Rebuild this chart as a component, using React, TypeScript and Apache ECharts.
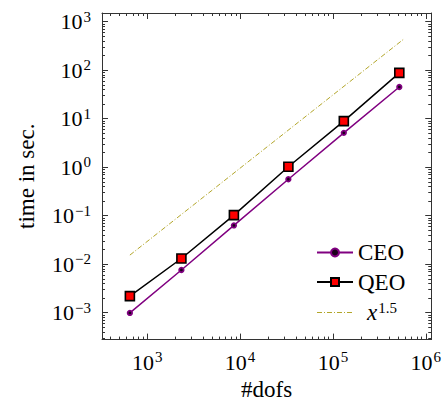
import React, { useEffect, useRef } from "react";
import * as echarts from "echarts";

// Data
const dofs = [649, 2330, 8570, 33100, 131000, 519000];
const ceoTimes = [0.00099, 0.0076, 0.063, 0.565, 5.1, 45];
const qeoTimes = [0.0022, 0.0131, 0.103, 1.02, 8.9, 88];
const refDofs = [649, 577000];
const refTimes = [0.0154, 435];

const xMajorTicks = [1e3, 1e4, 1e5, 1e6];
const yMajorTicks = [1e-3, 1e-2, 1e-1, 1e0, 1e1, 1e2, 1e3];
const minorFactors = [2, 3, 4, 5, 6, 7, 8, 9];
const xDecades = [1e2, 1e3, 1e4, 1e5, 1e6];
const yDecades = [1e-4, 1e-3, 1e-2, 1e-1, 1e0, 1e1, 1e2, 1e3];

const X_MIN = 325;
const X_MAX = 1.146e6;
const Y_MIN = 2.79e-4;
const Y_MAX = 1510;

const FONT = "Liberation Serif";

const minorOf = (decades: number[], lo: number, hi: number) => {
  const out: number[] = [];
  decades.forEach((d) =>
    minorFactors.forEach((f) => {
      const v = +(d * f).toPrecision(6);
      if (v > lo && v < hi) out.push(v);
    })
  );
  return out;
};

const powLabel = (v: number) => {
  const e = Math.round(Math.log10(v));
  const s = e < 0 ? "\u2212" + -e : String(e);
  return `{b|10}{s|${s}}`;
};

const rich = {
  b: { fontFamily: FONT, fontSize: 22, color: "#000" },
  s: { fontFamily: FONT, fontSize: 15, color: "#000", padding: [0, 0, 10, 1] },
};

// dash-dot legend sample (bounding box fixed to 36x10 by the first two moves)
const dashDotIcon =
  "path://M0,0 M36,10 " +
  [
    [0, 5],
    [7, 8],
    [10, 15],
    [17, 18],
    [20, 25],
    [27, 28],
    [30, 35],
  ]
    .map(([a, b]) => `M${a},4.5 L${b},4.5 L${b},5.5 L${a},5.5 Z`)
    .join(" ");

export default function App() {
  const ref = useRef<HTMLDivElement>(null);
  useEffect(() => {
    if (!ref.current) return;
    const chart = echarts.init(ref.current, undefined, { renderer: "svg" });
    const xMinor = minorOf(xDecades, X_MIN, X_MAX);
    const yMinor = minorOf(yDecades, Y_MIN, Y_MAX);
    const axisLineStyle = { color: "#333", width: 1 };

    const xBase = (extra: any) => ({
      type: "log",
      logBase: 10,
      min: X_MIN,
      max: X_MAX,
      splitLine: { show: false },
      minorTick: { show: false },
      ...extra,
    });
    const yBase = (extra: any) => ({
      type: "log",
      logBase: 10,
      min: Y_MIN,
      max: Y_MAX,
      splitLine: { show: false },
      minorTick: { show: false },
      ...extra,
    });

    chart.setOption({
      animation: false,
      backgroundColor: "#fff",
      grid: { left: 102, right: 11, top: 13, bottom: 62, containLabel: false },
      xAxis: [
        xBase({
          position: "bottom",
          axisLine: { show: true, lineStyle: axisLineStyle },
          axisTick: { show: true, inside: true, length: 6, customValues: xMajorTicks, lineStyle: axisLineStyle },
          axisLabel: { show: true, customValues: xMajorTicks, formatter: powLabel, rich, margin: 10 },
          name: "#dofs",
          nameLocation: "middle",
          nameGap: 38,
          nameTextStyle: { fontFamily: FONT, fontSize: 23, color: "#000" },
        }),
        xBase({
          position: "bottom",
          axisLine: { show: false },
          axisTick: { show: true, inside: true, length: 3, customValues: xMinor, lineStyle: axisLineStyle },
          axisLabel: { show: false },
        }),
        xBase({
          position: "top",
          axisLine: { show: true, lineStyle: axisLineStyle },
          axisTick: { show: true, inside: true, length: 6, customValues: xMajorTicks, lineStyle: axisLineStyle },
          axisLabel: { show: false },
        }),
        xBase({
          position: "top",
          axisLine: { show: false },
          axisTick: { show: true, inside: true, length: 3, customValues: xMinor, lineStyle: axisLineStyle },
          axisLabel: { show: false },
        }),
      ],
      yAxis: [
        yBase({
          position: "left",
          axisLine: { show: true, lineStyle: axisLineStyle },
          axisTick: { show: true, inside: true, length: 6, customValues: yMajorTicks, lineStyle: axisLineStyle },
          axisLabel: { show: true, customValues: yMajorTicks, formatter: powLabel, rich, margin: 11 },
          name: "time in sec.",
          nameLocation: "middle",
          nameRotate: 90,
          nameGap: 64,
          nameTextStyle: { fontFamily: FONT, fontSize: 23, color: "#000" },
        }),
        yBase({
          position: "left",
          axisLine: { show: false },
          axisTick: { show: true, inside: true, length: 3, customValues: yMinor, lineStyle: axisLineStyle },
          axisLabel: { show: false },
        }),
        yBase({
          position: "right",
          axisLine: { show: true, lineStyle: axisLineStyle },
          axisTick: { show: true, inside: true, length: 6, customValues: yMajorTicks, lineStyle: axisLineStyle },
          axisLabel: { show: false },
        }),
        yBase({
          position: "right",
          axisLine: { show: false },
          axisTick: { show: true, inside: true, length: 3, customValues: yMinor, lineStyle: axisLineStyle },
          axisLabel: { show: false },
        }),
      ],
      legend: {
        orient: "vertical",
        left: 316,
        top: 241,
        padding: 0,
        itemWidth: 36,
        itemHeight: 10,
        itemGap: 6.5,
        data: ["CEO", "QEO", { name: "x^1.5", icon: dashDotIcon }],
        formatter: (name: string) => (name === "x^1.5" ? "{i|x}{s|1.5}" : name),
        textStyle: {
          fontFamily: FONT,
          fontSize: 23,
          lineHeight: 23,
          color: "#000",
          rich: {
            i: { fontFamily: FONT, fontSize: 23, lineHeight: 23, fontStyle: "italic", color: "#000", padding: [0, 0, 0, 9] },
            s: { fontFamily: FONT, fontSize: 15, color: "#000", padding: [0, 0, 10, 1] },
          },
        },
      },
      series: [
        {
          name: "CEO",
          type: "line",
          xAxisIndex: 0,
          yAxisIndex: 0,
          data: dofs.map((d, i) => [d, ceoTimes[i]]),
          symbol: "circle",
          symbolSize: 4.5,
          lineStyle: { color: "#800080", width: 1.5 },
          itemStyle: { color: "#1a001a", borderColor: "#800080", borderWidth: 1.8 },
          z: 3,
        },
        {
          name: "QEO",
          type: "line",
          xAxisIndex: 0,
          yAxisIndex: 0,
          data: dofs.map((d, i) => [d, qeoTimes[i]]),
          symbol: "rect",
          symbolSize: 9,
          lineStyle: { color: "#000", width: 1.5 },
          itemStyle: { color: "#ff0000", borderColor: "#000", borderWidth: 1.6 },
          z: 4,
        },
        {
          name: "x^1.5",
          type: "line",
          xAxisIndex: 0,
          yAxisIndex: 0,
          data: refDofs.map((d, i) => [d, refTimes[i]]),
          symbol: "none",
          lineStyle: { color: "#b3a62a", width: 1, type: [5, 2, 1, 2] },
          itemStyle: { color: "#b3a62a" },
          z: 2,
        },
      ],
    });
    return () => chart.dispose();
  }, []);
  return (
    <div
      ref={ref}
      style={{ position: "fixed", left: 0, top: 0, width: 444, height: 406, background: "#fff" }}
    />
  );
}
